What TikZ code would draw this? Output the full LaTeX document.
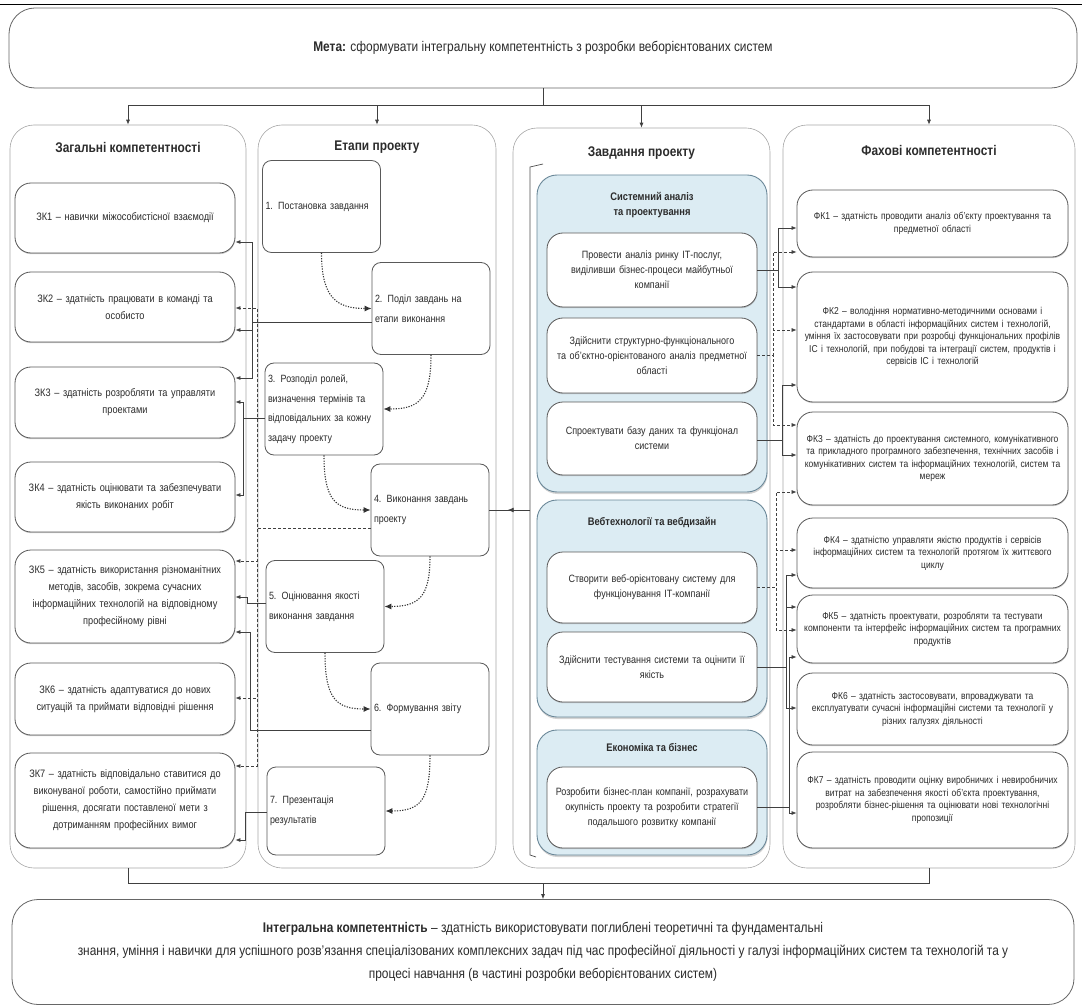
\documentclass[tikz,border=0pt]{standalone}
\usepackage{fontspec}
\setmainfont{Liberation Sans}[FakeStretch=0.85]
\usepackage{tikz}
\usetikzlibrary{arrows.meta, decorations.markings, shadows}
\definecolor{grpfill}{HTML}{DCECF3}
\definecolor{grpline}{HTML}{6A8798}
\definecolor{txt}{HTML}{2B2B2B}
\tikzset{->-/.style={decoration={markings, mark=at position #1 with {\arrow{Latex[length=6pt,width=5pt]}}}, postaction={decorate}}}
\tikzset{
  wire/.style={draw=black!75, line width=0.7pt},
  conn/.style={wire, -{Latex[length=5pt,width=4pt]}},
  dconn/.style={conn, dash pattern=on 3pt off 2pt},
  stepflow/.style={draw=black!80, line width=1.1pt, dash pattern=on 1.2pt off 1.4pt, -{Latex[length=7pt,width=6pt]}},
  colframe/.style={draw=black!35, line width=0.6pt, rounded corners=24pt},
  coltitle/.style={font=\fontsize{14}{16}\selectfont\bfseries, text=txt},
  bigbox/.style={draw=black!60, fill=white, line width=0.8pt, rounded corners=26pt, align=center, text=txt},
  zkbox/.style={draw=black!65, fill=white, line width=0.8pt, rounded corners=16pt, minimum width=220pt, text width=212pt, inner sep=2pt, align=center, font=\fontsize{10.8}{17}\selectfont, text=txt, drop shadow={shadow xshift=0.4pt, shadow yshift=-1.2pt, opacity=0.4}},
  fkbox/.style={zkbox, minimum width=271pt, text width=266pt, font=\fontsize{10}{12.5}\selectfont},
  stagebox/.style={draw=black!65, fill=white, line width=0.8pt, rounded corners=9pt, minimum width=118pt, minimum height=92pt, text width=112pt, inner sep=3pt, align=left, font=\fontsize{10.5}{19.5}\selectfont, text=txt},
  grpbox/.style={draw=grpline, fill=grpfill, line width=0.9pt, rounded corners=20pt, minimum width=230pt, drop shadow={shadow xshift=0.5pt, shadow yshift=-2pt, opacity=0.35}},
  grptitle/.style={font=\fontsize{11}{15}\selectfont\bfseries, align=center, text=txt},
  taskbox/.style={zkbox, minimum width=210pt, text width=205pt, font=\fontsize{10.6}{15}\selectfont}
}
% stage -> general competence, task -> professional competence
\newcommand{\zklink}[6]{\draw[#1] (#2.west |- 0,#3) -- (#4,#3) -- (#4,#6) -- (#5.east |- 0,#6);}
\newcommand{\fklink}[6]{\draw[#1] (#2.east |- 0,#3) -- (#4,#3) -- (#4,#6) -- (#5.west |- 0,#6);}

\begin{document}
\begin{tikzpicture}[x=1pt, y=-1pt]
\useasboundingbox (0,0) rectangle (1082,1008);
\draw[line width=1pt] (0,5) -- (1082,5);

% goal and result
\node[bigbox, minimum width=1068pt, minimum height=80pt, font=\fontsize{14}{16}\selectfont] (goal) at (543,48) {\textbf{Мета:} сформувати інтегральну компетентність з розробки веборієнтованих систем};
\node[bigbox, minimum width=1062pt, minimum height=105pt, font=\fontsize{14}{23}\selectfont] (integral) at (543,952) {\textbf{Інтегральна компетентність} – здатність використовувати поглиблені теоретичні та фундаментальні\\знання, уміння і навички для успішного розв'язання спеціалізованих комплексних задач під час професійної діяльності у галузі інформаційних систем та технологій та у\\процесі навчання (в частині розробки веборієнтованих систем)};

% columns
\node[colframe, minimum width=236pt, minimum height=743pt] (c1) at (128,496.5) {};
\node[colframe, minimum width=238pt, minimum height=743pt] (c2) at (377,496.5) {};
\node[colframe, minimum width=257pt, minimum height=740pt] (c3) at (641.5,498) {};
\node[colframe, minimum width=292pt, minimum height=743pt] (c4) at (929,496.5) {};
\node[coltitle] (t1) at (128,147) {Загальні компетентності};
\node[coltitle] (t2) at (377,147) {Етапи проекту};
\node[coltitle] (t3) at (641.5,153) {Завдання проекту};
\node[coltitle] (t4) at (929,150) {Фахові компетентності};

% general competences
\node[zkbox, minimum height=70pt] (zk1) at (125,218) {ЗК1 – навички міжособистісної взаємодії};
\node[zkbox, minimum height=70pt] (zk2) at (125,307) {ЗК2 – здатність працювати в команді та\\особисто};
\node[zkbox, minimum height=71pt] (zk3) at (125,402.5) {ЗК3 – здатність розробляти та управляти\\проектами};
\node[zkbox, minimum height=70pt] (zk4) at (125,497) {ЗК4 – здатність оцінювати та забезпечувати\\якість виконаних робіт};
\node[zkbox, minimum height=93pt] (zk5) at (125,596.5) {ЗК5 – здатність використання різноманітних\\методів, засобів, зокрема сучасних\\інформаційних технологій на відповідному\\професійному рівні};
\node[zkbox, minimum height=72pt] (zk6) at (125,699) {ЗК6 – здатність адаптуватися до нових\\ситуацій та приймати відповідні рішення};
\node[zkbox, minimum height=95pt] (zk7) at (125,800.5) {ЗК7 – здатність відповідально ставитися до\\виконуваної роботи, самостійно приймати\\рішення, досягати поставленої мети з\\дотриманням професійних вимог};

% project stages
\node[stagebox] (s1) at (321.5,206.5) {1. Постановка завдання};
\node[stagebox] (s2) at (431,308.5) {2. Поділ завдань на\\етапи виконання};
\node[stagebox] (s3) at (324,409) {3. Розподіл ролей,\\визначення термінів та\\відповідальних за кожну\\задачу проекту};
\node[stagebox] (s4) at (430,510) {4. Виконання завдань\\проекту};
\node[stagebox] (s5) at (325,606.5) {5. Оцінювання якості\\виконання завдання};
\node[stagebox] (s6) at (430,709) {6. Формування звіту};
\node[stagebox, minimum height=88pt] (s7) at (326,811) {7. Презентація\\результатів};

% project tasks
\node[grpbox, minimum height=317pt] (g1) at (652,333.5) {};
\node[grpbox, minimum height=217pt] (g2) at (652,608.5) {};
\node[grpbox, minimum height=125pt] (g3) at (652,792.5) {};
\node[grptitle] (gt1) at (652,205) {Системний аналіз\\та проектування};
\node[grptitle] (gt2) at (652,523) {Вебтехнології та вебдизайн};
\node[grptitle] (gt3) at (652,748) {Економіка та бізнес};
\node[taskbox, minimum height=74pt] (t11) at (652,270) {Провести аналіз ринку ІТ-послуг,\\виділивши бізнес-процеси майбутньої\\компанії};
\node[taskbox, minimum height=75pt] (t12) at (652,355.5) {Здійснити структурно-функціонального\\та об'єктно-орієнтованого аналіз предметної\\області};
\node[taskbox, minimum height=73pt] (t13) at (652,438.5) {Спроектувати базу даних та функціонал\\системи};
\node[taskbox, minimum height=71pt] (t21) at (652,587.5) {Створити веб-орієнтовану систему для\\функціонування ІТ-компанії};
\node[taskbox, minimum height=70pt] (t22) at (652,667) {Здійснити тестування системи та оцінити її\\якість};
\node[taskbox, minimum height=81pt] (t31) at (652,807.5) {Розробити бізнес-план компанії, розрахувати\\окупність проекту та розробити стратегії\\подальшого розвитку компанії};
\draw[black!70, line width=0.7pt] (543,164) -- (530,167) -- (530,855) -- (536,857);
\coordinate (brk) at (530,510);

% professional competences
\node[fkbox, minimum height=67pt] (fk1) at (932.5,223.5) {ФК1 – здатність проводити аналіз об'єкту проектування та\\предметної області};
\node[fkbox, minimum height=130pt] (fk2) at (932.5,337) {ФК2 – володіння нормативно-методичними основами і\\стандартами в області інформаційних систем і технологій,\\уміння їх застосовувати при розробці функціональних профілів\\ІС і технологій, при побудові та інтеграції систем, продуктів і\\сервісів ІС і технологій};
\node[fkbox, minimum height=93pt] (fk3) at (932.5,458.5) {ФК3 – здатність до проектування системного, комунікативного\\та прикладного програмного забезпечення, технічних засобів і\\комунікативних систем та інформаційних технологій, систем та\\мереж};
\node[fkbox, minimum height=70pt] (fk4) at (932.5,553) {ФК4 – здатністю управляти якістю продуктів і сервісів\\інформаційних систем та технологій протягом їх життєвого\\циклу};
\node[fkbox, minimum height=68pt] (fk5) at (932.5,629) {ФК5 – здатність проектувати, розробляти та тестувати\\компоненти та інтерфейс інформаційних систем та програмних\\продуктів};
\node[fkbox, minimum height=72pt] (fk6) at (932.5,709) {ФК6 – здатність застосовувати, впроваджувати та\\експлуатувати сучасні інформаційні системи та технології у\\різних галузях діяльності};
\node[fkbox, minimum height=96pt] (fk7) at (932.5,800) {ФК7 – здатність проводити оцінку виробничих і невиробничих\\витрат на забезпечення якості об'єкта проектування,\\розробляти бізнес-рішення та оцінювати нові технологічні\\пропозиції};

% goal -> columns, columns -> result
\draw[wire] (goal.south) -- ++(0,17) coordinate (hub);
\foreach \c in {c1,c2,c3,c4} \draw[conn] (hub) -| (\c.north);
\draw[wire] (c1.south) -- ++(0,15) coordinate (bl) -| (c4.south);
\draw[conn] (bl -| integral.north) -- (integral.north);

% stage sequence
\draw[stepflow] (s1.south) .. controls +(0,45) and +(-35,0) .. (s2.west);
\draw[stepflow] (s2.south) .. controls +(0,45) and +(35,0) .. (s3.east);
\draw[stepflow] (s3.south) .. controls +(0,45) and +(-35,0) .. (s4.west);
\draw[stepflow] (s4.south) .. controls +(0,40) and +(35,0) .. (s5.east);
\draw[stepflow] (s5.south) .. controls +(0,45) and +(-35,0) .. (s6.west);
\draw[stepflow] (s6.south) .. controls +(0,45) and +(35,0) .. (s7.east);
\draw[wire, ->-=0.55] (brk) -- (s4.east);

% stages -> general competences
\zklink{conn}{s2}{322}{252}{zk1}{242}
\zklink{conn}{s2}{322}{252}{zk2}{330}
\zklink{conn}{s2}{322}{252}{zk3}{378}
\zklink{conn}{s3}{418}{243}{zk3}{402}
\zklink{conn}{s3}{418}{243}{zk4}{495}
\zklink{dconn}{s4}{528}{257}{zk2}{308}
\zklink{dconn}{s4}{528}{257}{zk5}{561}
\zklink{dconn}{s4}{528}{257}{zk6}{698}
\zklink{dconn}{s4}{528}{257}{zk7}{766}
\zklink{conn}{s5}{603}{247}{zk5}{597}
\zklink{conn}{s6}{730}{250}{zk5}{632}
\zklink{conn}{s7}{812}{245}{zk7}{840}

% tasks -> professional competences
\fklink{conn}{t11}{270}{778}{fk1}{228}
\fklink{conn}{t11}{270}{778}{fk2}{287}
\fklink{dconn}{t12}{355}{773}{fk1}{252}
\fklink{dconn}{t12}{355}{773}{fk2}{330}
\fklink{dconn}{t12}{355}{773}{fk3}{425}
\fklink{conn}{t13}{440}{782}{fk2}{385}
\fklink{conn}{t13}{440}{782}{fk3}{455}
\fklink{dconn}{t21}{587}{776}{fk3}{492}
\fklink{dconn}{t21}{587}{776}{fk4}{550}
\fklink{dconn}{t21}{587}{776}{fk5}{630}
\fklink{conn}{t22}{667}{786}{fk4}{575}
\fklink{conn}{t22}{667}{786}{fk5}{607}
\fklink{conn}{t22}{667}{786}{fk6}{708}
\fklink{conn}{t31}{807}{789}{fk5}{657}
\fklink{conn}{t31}{807}{789}{fk7}{813}
\end{tikzpicture}
\end{document}
